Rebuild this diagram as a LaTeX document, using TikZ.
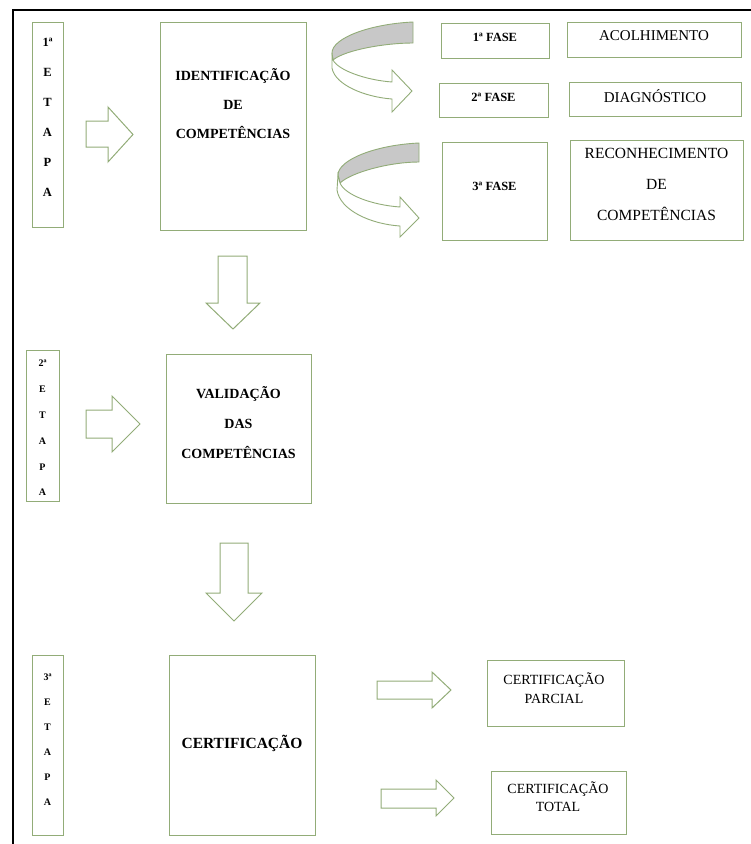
\documentclass[tikz,border=0pt]{standalone}
\usepackage{fontspec}
\setmainfont{Liberation Serif}
\definecolor{grn}{RGB}{146,172,120}
\definecolor{gry}{RGB}{200,200,200}
\tikzset{
  gbox/.style={draw=grn, line width=1pt, inner sep=0pt, fill=white},
  txt/.style={align=center, inner sep=0pt, text=black},
  blk/.style={draw=grn, line width=1pt, fill=white, line join=miter},
  curvgray/.style={draw=grn, line width=0.9pt, fill=gry},
  curvwhite/.style={draw=grn, line width=0.9pt, fill=white}
}
\begin{document}
\begin{tikzpicture}[x=1pt,y=-1pt]
\useasboundingbox (0,0) rectangle (751,844);
% outer frame (top and left visible)
\draw[line width=2pt, black] (13,844) -- (13,10) -- (751,10);

% ---- boxes ----
\node[gbox, minimum width=31pt, minimum height=205pt] (e1) at (47.5,124.5) {};
\node[gbox, minimum width=146pt, minimum height=208pt] (idb) at (233,126) {};
\node[gbox, minimum width=108pt, minimum height=35pt] (f1) at (495,40.5) {};
\node[gbox, minimum width=174pt, minimum height=35pt] (aco) at (654,39.5) {};
\node[gbox, minimum width=109pt, minimum height=34pt] (f2) at (493.5,100) {};
\node[gbox, minimum width=172pt, minimum height=34pt] (dia) at (655,99) {};
\node[gbox, minimum width=105pt, minimum height=98pt] (f3) at (494.5,191) {};
\node[gbox, minimum width=173pt, minimum height=100pt] (rec) at (656.5,190) {};
\node[gbox, minimum width=33pt, minimum height=151pt] (e2) at (42.5,425.5) {};
\node[gbox, minimum width=145pt, minimum height=149pt] (val) at (238.5,428.5) {};
\node[gbox, minimum width=31pt, minimum height=180pt] (e3) at (47.5,745) {};
\node[gbox, minimum width=146pt, minimum height=180pt] (cert) at (242,745) {};
\node[gbox, minimum width=137pt, minimum height=66pt] (par) at (555.5,693) {};
\node[gbox, minimum width=135pt, minimum height=63pt] (tot) at (558.5,802.5) {};

% ---- texts ----
\node[txt, font=\fontsize{12.5}{30}\selectfont\bfseries] (e1t) at (47.5,117) {1ª\\E\\T\\A\\P\\A};
\node[txt, font=\fontsize{14}{29}\selectfont\bfseries] (idt) at (233,104) {IDENTIFICAÇÃO\\DE\\COMPETÊNCIAS};
\node[txt, font=\fontsize{12.5}{15}\selectfont\bfseries] (f1t) at (495,37) {1ª FASE};
\node[txt, font=\fontsize{12.5}{15}\selectfont\bfseries] (f2t) at (493.5,97) {2ª FASE};
\node[txt, font=\fontsize{12.5}{15}\selectfont\bfseries] (f3t) at (494.5,186) {3ª FASE};
\node[txt, font=\fontsize{15}{18}\selectfont] (acot) at (654,36) {ACOLHIMENTO};
\node[txt, font=\fontsize{15}{18}\selectfont] (diat) at (655,96) {DIAGNÓSTICO};
\node[txt, font=\fontsize{15.5}{31}\selectfont] (rect) at (656.5,184.5) {RECONHECIMENTO\\DE\\COMPETÊNCIAS};
\node[txt, font=\fontsize{10}{25.8}\selectfont\bfseries] (e2t) at (42.5,428) {2ª\\E\\T\\A\\P\\A};
\node[txt, font=\fontsize{14}{30}\selectfont\bfseries] (valt) at (238.5,423) {VALIDAÇÃO\\DAS\\COMPETÊNCIAS};
\node[txt, font=\fontsize{10}{25}\selectfont\bfseries] (e3t) at (47.5,740) {3ª\\E\\T\\A\\P\\A};
\node[txt, font=\fontsize{15.5}{18}\selectfont\bfseries] (certt) at (242,743) {CERTIFICAÇÃO};
\node[txt, font=\fontsize{14}{19}\selectfont] (part) at (554,688) {CERTIFICAÇÃO\\PARCIAL};
\node[txt, font=\fontsize{14}{18}\selectfont] (tott) at (558,797) {CERTIFICAÇÃO\\TOTAL};

% ---- block arrows ----
\draw[blk] (86,121) -- (108,121) -- (108,107) -- (133,134.5) -- (108,162) -- (108,147) -- (86,147) -- cycle;
\draw[blk] (86,410) -- (112,410) -- (112,396) -- (140,424) -- (112,452) -- (112,438) -- (86,438) -- cycle;
\draw[blk] (218,256) -- (247,256) -- (247,303) -- (260,303) -- (233,329) -- (206,303) -- (218,303) -- cycle;
\draw[blk] (220,543) -- (248,543) -- (248,593) -- (262,593) -- (234,621) -- (206,593) -- (220,593) -- cycle;
\draw[blk] (377,681) -- (432,681) -- (432,672) -- (451,690) -- (432,708) -- (432,699) -- (377,699) -- cycle;
\draw[blk] (381,789) -- (436,789) -- (436,780) -- (454,798) -- (436,816) -- (436,808) -- (381,808) -- cycle;

% ---- curved arrows ----
\draw[curvgray] (413,22) .. controls (370,24) and (332,38) .. (332,53) -- (333,60) .. controls (345,50) and (385,43) .. (413,43) -- cycle;
\draw[curvwhite] (332,53) -- (332,68) .. controls (335,85) and (365,97) .. (392,99) -- (392,112) -- (412,91) -- (392,70) -- (392,82) .. controls (365,80) and (338,70) .. (333,60) -- cycle;

\draw[curvgray] (419,143) .. controls (375,145) and (338,160) .. (338,175) -- (340,183) .. controls (352,172) and (390,162) .. (419,162) -- cycle;
\draw[curvwhite] (338,175) -- (337,190) .. controls (340,210) and (370,224) .. (400,226) -- (400,237) -- (419,218) -- (400,197) -- (400,207) .. controls (372,205) and (345,195) .. (340,183) -- cycle;
\end{tikzpicture}
\end{document}
